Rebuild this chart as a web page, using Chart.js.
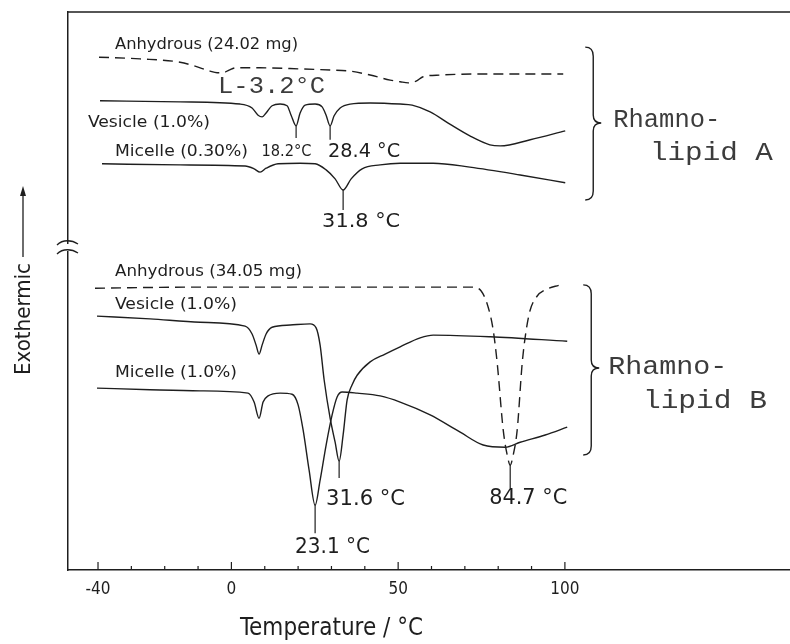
<!DOCTYPE html>
<html><head><meta charset="utf-8">
<script src="https://cdn.jsdelivr.net/npm/chart.js@4.4.0/dist/chart.umd.min.js"></script>
<style>html,body{margin:0;padding:0;background:#fff;}#wrap{width:790px;height:644px;}</style>
</head><body><div id="wrap"><canvas id="c" width="790" height="644"></canvas></div>
<script>
// ---- data (temperature °C, relative heat flow) ----
const tA_anh = [-39.7,-27.4,-15.4,-10.9,-6.4,-4.3,-2.5,-0.7,1.4,8.6,20.6,29.6,35.6,41.6,47.6,50.6,53.0,55.4,57.5,62.6,74.6,99.5];
const yA_anh = [91.9,91.6,91.0,90.3,89.4,89.1,89.1,89.6,90.0,90.0,89.8,89.6,89.4,88.7,87.8,87.5,87.3,87.6,88.4,88.7,88.9,88.9];
const tA_ves = [-39.4,-15.4,2.6,6.2,8.0,9.2,10.4,12.2,14.6,16.7,17.9,19.4,20.6,22.1,25.1,27.2,28.4,29.6,30.8,32.6,35.6,41.6,50.6,54.2,59.6,65.5,71.5,77.5,80.6,89.6,100.1];
const yA_ves = [84.1,83.9,83.5,82.8,81.5,81.2,81.9,83.2,83.5,83.2,81.5,79.6,81.9,83.3,83.5,83.0,81.5,79.6,81.4,82.8,83.5,83.7,83.5,83.3,82.1,79.9,77.8,76.2,76.0,77.1,78.7];
const tA_mic = [-38.8,-15.4,4.1,6.8,8.6,10.4,14.0,20.6,25.1,28.4,31.1,33.5,35.9,39.2,44.6,50.6,60.5,71.5,86.6,100.1];
const yA_mic = [72.8,72.6,72.4,71.9,71.3,72.0,72.8,72.9,72.8,71.7,70.1,68.1,70.1,71.9,72.6,72.9,72.9,72.2,70.8,69.4];
const tB_anh = [-40.9,-9.4,20.6,50.6,72.2,74.9,77.0,78.5,79.7,81.5,82.7,83.6,84.5,85.7,87.2,88.4,89.6,91.7,94.1,98.6];
const yB_anh = [50.5,50.7,50.7,50.7,50.7,50.0,47.1,43.0,37.1,25.1,20.6,18.8,20.6,25.1,37.1,43.0,46.6,49.1,50.2,51.1];
const tB_ves = [-40.3,-24.4,-9.4,4.1,6.2,7.4,8.3,9.2,10.4,12.2,17.6,23.6,25.4,26.6,27.8,29.6,31.1,32.3,33.5,34.7,36.2,37.7,41.6,46.1,50.6,56.6,60.5,77.6,100.7];
const yB_ves = [45.5,45.0,44.4,43.7,42.3,40.3,38.7,40.3,42.3,43.5,43.9,44.1,43.4,40.3,34.1,27.2,22.9,19.5,24.2,30.5,33.2,34.9,37.3,38.7,40.0,41.6,42.1,41.8,41.0];
const tB_mic = [-40.3,-24.4,-9.4,5.0,6.8,8.3,9.5,11.0,14.6,18.2,20.0,21.5,23.3,25.1,26.6,28.4,30.2,31.7,33.2,37.7,44.6,50.6,59.6,68.6,75.5,82.1,86.6,94.1,100.7];
const yB_mic = [32.6,32.3,32.1,31.7,30.1,27.2,30.1,31.2,31.7,31.5,29.6,25.1,17.9,11.6,16.1,22.4,27.8,31.0,31.9,31.7,31.2,30.1,27.8,24.7,22.4,22.0,22.9,24.2,25.6];
const xTickValues = [-40,-30,-20,-10,0,10,20,30,40,50,60,70,80,90,100];
const xTickLabels = [-40,0,50,100];
const xTitle = 'Temperature / °C';
const yTitle = 'Exothermic';

// ---- annotations (anchored in data units) ----
const SANS = '"DejaVu Sans Condensed","Liberation Sans Narrow","DejaVu Sans",sans-serif';
const MONO = '"Liberation Mono","DejaVu Sans Mono",monospace';
const labels = [
  {t:'Anhydrous (24.02 mg)', x:-34.9, y:94.1, w:183, f:16, fam:SANS},
  {t:'L-3.2°C', x:-4.0, y:86.6, w:107, f:24, fam:MONO},
  {t:'Vesicle (1.0%)', x:-43.0, y:80.1, w:122, f:16, fam:SANS},
  {t:'18.2°C', x:9.0, y:74.9, w:50, f:15, fam:SANS},
  {t:'28.4 °C', x:29.0, y:74.9, w:72, f:19, fam:SANS},
  {t:'Micelle (0.30%)', x:-34.9, y:74.9, w:133, f:16, fam:SANS},
  {t:'31.8 °C', x:27.2, y:62.4, w:78, f:20, fam:SANS},
  {t:'Rhamno-', x:114.5, y:80.5, w:107, f:25, fam:MONO},
  {t:'lipid A', x:125.5, y:74.6, w:123, f:25, fam:MONO},
  {t:'Anhydrous (34.05 mg)', x:-34.9, y:53.4, w:187, f:16, fam:SANS},
  {t:'Vesicle (1.0%)', x:-34.9, y:47.5, w:122, f:16, fam:SANS},
  {t:'Micelle (1.0%)', x:-34.9, y:35.3, w:122, f:16, fam:SANS},
  {t:'Rhamno-', x:113.0, y:36.4, w:119, f:26, fam:MONO},
  {t:'lipid B', x:123.4, y:30.3, w:124, f:26, fam:MONO},
  {t:'31.6 °C', x:28.4, y:12.7, w:79, f:22, fam:SANS},
  {t:'23.1 °C', x:19.1, y:4.1, w:75, f:22, fam:SANS},
  {t:'84.7 °C', x:77.3, y:12.9, w:78, f:22, fam:SANS}
];
const markers = [
  {x:19.4, y1:79.6, y2:77.4}, {x:29.6, y1:79.6, y2:77.1}, {x:33.5, y1:68.1, y2:64.5},
  {x:25.1, y1:11.6, y2:6.6}, {x:32.3, y1:19.5, y2:16.5}, {x:83.6, y1:18.8, y2:14.7}
];
const braces = [
  {x0:106.1, x1:108.5, x2:110.9, top:93.7, mid:80.1, bot:66.3},
  {x0:105.5, x1:107.9, x2:110.3, top:51.1, mid:36.2, bot:20.6}
];

const INK = '#1e1e1e';
const SOFT = '#3c3c3c';
function pts(t, y){ return t.map((v,i)=>({x:v, y:y[i]})); }
function ds(label, t, y, dashed){
  return {label, data: pts(t,y), showLine:true, pointRadius:0, borderColor:INK, borderWidth:1.4,
    borderDash: dashed ? [10,6] : [], cubicInterpolationMode:'monotone', fill:false};
}

function drawFit(ctx, text, x, y, w, font){
  ctx.save(); ctx.font = font; ctx.textBaseline='middle'; ctx.textAlign='left';
  const m = ctx.measureText(text).width;
  ctx.translate(x, y); ctx.scale(w/m, 1); ctx.fillText(text, 0, 0); ctx.restore();
}

const deco = {
  id:'deco',
  beforeDraw(chart){ const c=chart.ctx; c.save(); c.fillStyle='#fff'; c.fillRect(0,0,chart.width,chart.height); c.restore(); },
  afterDraw(chart){
    const c = chart.ctx, xs = chart.scales.x, ys = chart.scales.y, a = chart.chartArea;
    c.save();
    c.strokeStyle = INK; c.fillStyle = INK; c.lineWidth = 1.5;
    // top frame line
    c.beginPath(); c.moveTo(a.left, a.top); c.lineTo(a.right, a.top); c.stroke();
    // ticks (inward)
    c.lineWidth = 1.2;
    xTickValues.forEach(v=>{
      const px = xs.getPixelForValue(v), len = xTickLabels.includes(v) ? 8 : 4;
      c.beginPath(); c.moveTo(px, a.bottom); c.lineTo(px, a.bottom-len); c.stroke();
    });
    // axis break
    c.fillStyle = '#fff'; c.fillRect(a.left-3, 244, 6, 7); c.fillStyle = INK;
    c.lineWidth = 1.3;
    [243, 252].forEach(py=>{
      c.beginPath(); c.moveTo(a.left-11, py+2); c.bezierCurveTo(a.left-5, py-4, a.left+4, py-3, a.left+10, py+1); c.stroke();
    });
    // peak marker lines
    c.lineWidth = 1.2;
    markers.forEach(m=>{
      const px = xs.getPixelForValue(m.x);
      c.beginPath(); c.moveTo(px, ys.getPixelForValue(m.y1)); c.lineTo(px, ys.getPixelForValue(m.y2)); c.stroke();
    });
    // braces
    c.lineWidth = 1.4;
    braces.forEach(b=>{
      const x0=xs.getPixelForValue(b.x0), x1=xs.getPixelForValue(b.x1), x2=xs.getPixelForValue(b.x2);
      const t=ys.getPixelForValue(b.top), m=ys.getPixelForValue(b.mid), bt=ys.getPixelForValue(b.bot);
      c.beginPath();
      c.moveTo(x0, t); c.quadraticCurveTo(x1, t, x1, t+9);
      c.lineTo(x1, m-8); c.quadraticCurveTo(x1, m, x2, m);
      c.quadraticCurveTo(x1, m, x1, m+8);
      c.lineTo(x1, bt-9); c.quadraticCurveTo(x1, bt, x0, bt);
      c.stroke();
    });
    // text labels
    labels.forEach(l=>{
      c.fillStyle = l.fam === MONO ? SOFT : INK;
      drawFit(c, l.t, xs.getPixelForValue(l.x), ys.getPixelForValue(l.y), l.w, `${l.f}px ${l.fam}`);
    });
    c.fillStyle = INK;
    // x title
    drawFit(c, xTitle, 240, 628, 183, `25px ${SANS}`);
    // y title (rotated) + arrow
    c.save(); c.translate(a.left-44, 319); c.rotate(-Math.PI/2);
    drawFit(c, yTitle, -56, 0, 112, `22px ${SANS}`);
    c.restore();
    const ax = a.left-45;
    c.lineWidth = 1.3;
    c.beginPath(); c.moveTo(ax, 257); c.lineTo(ax, 190); c.stroke();
    c.beginPath(); c.moveTo(ax, 186); c.lineTo(ax-3, 196); c.lineTo(ax+3, 196); c.closePath(); c.fill();
    c.restore();
  }
};

new Chart(document.getElementById('c'), {
  type:'scatter',
  data:{ datasets:[
    ds('A Anhydrous (24.02 mg)', tA_anh, yA_anh, true),
    ds('A Vesicle (1.0%)', tA_ves, yA_ves, false),
    ds('A Micelle (0.30%)', tA_mic, yA_mic, false),
    ds('B Anhydrous (34.05 mg)', tB_anh, yB_anh, true),
    ds('B Vesicle (1.0%)', tB_ves, yB_ves, false),
    ds('B Micelle (1.0%)', tB_mic, yB_mic, false)
  ]},
  options:{
    responsive:false, animation:false, devicePixelRatio:1,
    layout:{padding:{top:12,left:0,right:0,bottom:0}},
    plugins:{legend:{display:false}, tooltip:{enabled:false}},
    scales:{
      x:{type:'linear', min:-49.0, max:167.5,
        afterFit:s=>{s.height=74;},
        afterBuildTicks:s=>{s.ticks = xTickValues.map(v=>({value:v}));},
        ticks:{callback:v=> xTickLabels.includes(v) ? String(v) : '', autoSkip:false, maxRotation:0,
          padding:9, color:INK, font:{family:SANS, size:17}},
        grid:{display:false, drawTicks:false},
        border:{display:true, color:INK, width:1.5}},
      y:{type:'linear', min:0, max:100,
        afterFit:s=>{s.width=68;},
        ticks:{display:false},
        grid:{display:false, drawTicks:false},
        border:{display:true, color:INK, width:1.5}}
    }
  },
  plugins:[deco]
});
</script></body></html>
